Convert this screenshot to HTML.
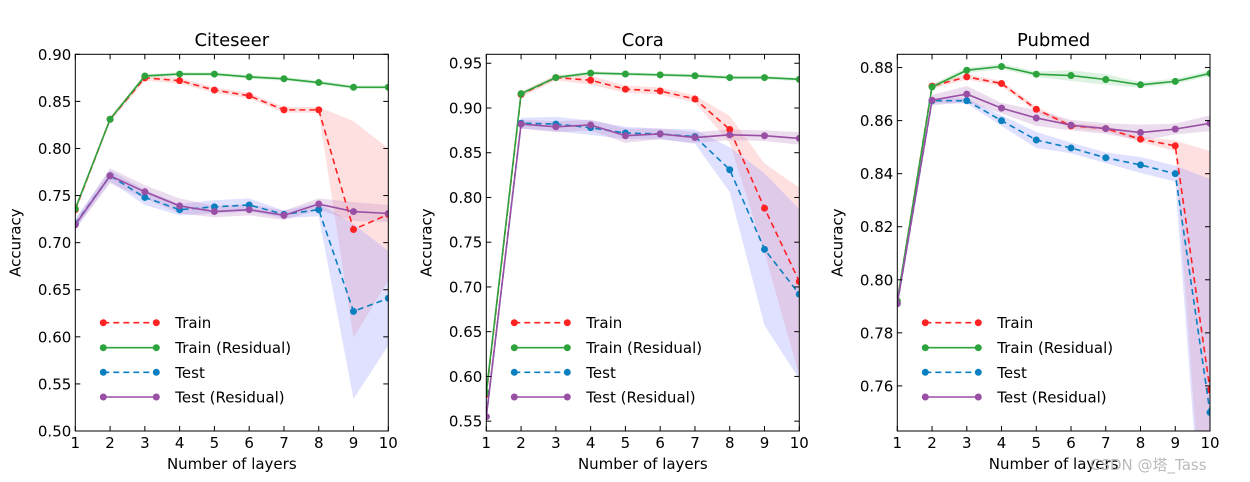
<!DOCTYPE html>
<html><head><meta charset="utf-8"><style>
html,body{margin:0;background:#fff;overflow:hidden;width:1250px;height:482px;}
svg{display:block;font-family:"DejaVu Sans","Liberation Sans",sans-serif;}
</style></head><body>
<svg id="fig" width="1250" height="482" viewBox="0 0 1250 482" xmlns="http://www.w3.org/2000/svg"></svg>
<script>
const layers=[1,2,3,4,5,6,7,8,9,10];
const seriesNames=["Train","Train (Residual)","Test","Test (Residual)"];
// Citeseer
const citeTrain=[0.735,0.831,0.875,0.872,0.862,0.856,0.841,0.841,0.714,0.730];
const citeTrainRes=[0.736,0.831,0.877,0.879,0.879,0.876,0.874,0.870,0.865,0.865];
const citeTest=[0.720,0.771,0.748,0.735,0.738,0.740,0.730,0.735,0.627,0.641];
const citeTestRes=[0.719,0.771,0.754,0.739,0.733,0.735,0.729,0.741,0.733,0.731];
const citeTrainErr=[0.003,0.003,0.003,0.003,0.003,0.003,0.003,0.003,0.115,0.07];
const citeTrainResErr=[0.002,0.002,0.002,0.002,0.002,0.002,0.002,0.002,0.002,0.002];
const citeTestErr=[0.005,0.006,0.008,0.006,0.007,0.007,0.004,0.007,0.093,0.05];
const citeTestResErr=[0.005,0.008,0.007,0.008,0.006,0.006,0.005,0.006,0.01,0.009];
const citeTicks=[0.50,0.55,0.60,0.65,0.70,0.75,0.80,0.85,0.90];
// Cora
const coraTrain=[0.580,0.915,0.934,0.931,0.921,0.919,0.910,0.876,0.788,0.706];
const coraTrainRes=[0.582,0.916,0.934,0.939,0.938,0.937,0.936,0.934,0.934,0.932];
const coraTest=[0.555,0.883,0.882,0.878,0.872,0.871,0.868,0.831,0.742,0.692];
const coraTestRes=[0.555,0.882,0.879,0.881,0.869,0.871,0.867,0.870,0.869,0.866];
const coraTrainErr=[0.003,0.003,0.003,0.005,0.004,0.004,0.004,0.015,0.05,0.105];
const coraTrainResErr=[0.002,0.002,0.002,0.002,0.002,0.002,0.002,0.002,0.002,0.002];
const coraTestErr=[0.004,0.006,0.008,0.008,0.007,0.006,0.008,0.025,0.085,0.095];
const coraTestResErr=[0.004,0.005,0.006,0.006,0.008,0.006,0.006,0.006,0.006,0.007];
const coraTicks=[0.55,0.60,0.65,0.70,0.75,0.80,0.85,0.90,0.95];
// Pubmed
const pubTrain=[0.792,0.873,0.8765,0.874,0.8643,0.858,0.857,0.853,0.8505,0.7585];
const pubTrainRes=[0.792,0.8727,0.879,0.8804,0.8775,0.877,0.8755,0.8735,0.8748,0.8778];
const pubTest=[0.791,0.8675,0.8675,0.860,0.8527,0.8497,0.846,0.8433,0.840,0.750];
const pubTestRes=[0.791,0.8677,0.870,0.8647,0.861,0.8583,0.857,0.8555,0.8568,0.859];
const pubTrainErr=[0.001,0.001,0.001,0.001,0.001,0.001,0.001,0.001,0.002,0.09];
const pubTrainResErr=[0.001,0.001,0.001,0.001,0.001,0.002,0.002,0.001,0.001,0.001];
const pubTestErr=[0.001,0.001,0.001,0.002,0.003,0.002,0.002,0.003,0.003,0.088];
const pubTestResErr=[0.001,0.002,0.003,0.002,0.003,0.002,0.002,0.003,0.002,0.003];
const pubTicks=[0.76,0.78,0.80,0.82,0.84,0.86,0.88];

const NS="http://www.w3.org/2000/svg";
const fig=document.getElementById('fig');
function mk(tag,attrs,parent){const e=document.createElementNS(NS,tag);for(const k in attrs)e.setAttribute(k,attrs[k]);(parent||fig).appendChild(e);return e;}
const colors=["#ff2222","#2ca33c","#0b80c0","#994fa4"];
const bandColors=["#ff9999","#8fd39a","#9999ff","#c090c8"];
const dashes=["6,4","none","6,4","none"];

const panels=[
 {title:"Citeseer",key:"citeseer",x0:75.3,x1:388.3,ymin:0.50,ymax:0.90,ticks:citeTicks,dec:2,
  series:[citeTrain,citeTrainRes,citeTest,citeTestRes],errs:[citeTrainErr,citeTrainResErr,citeTestErr,citeTestResErr]},
 {title:"Cora",key:"cora",x0:486.3,x1:799.3,ymin:0.539,ymax:0.960,ticks:coraTicks,dec:2,
  series:[coraTrain,coraTrainRes,coraTest,coraTestRes],errs:[coraTrainErr,coraTrainResErr,coraTestErr,coraTestResErr]},
 {title:"Pubmed",key:"pubmed",x0:897.3,x1:1210,ymin:0.743,ymax:0.885,ticks:pubTicks,dec:2,
  series:[pubTrain,pubTrainRes,pubTest,pubTestRes],errs:[pubTrainErr,pubTrainResErr,pubTestErr,pubTestResErr]}
];
const yT=54.3,yB=431;

panels.forEach((p,pi)=>{
  const g=mk('g',{});
  
  
  const sx=v=>p.x0+(v-1)/9*(p.x1-p.x0);
  const sy=v=>yB-(v-p.ymin)/(p.ymax-p.ymin)*(yB-yT);
  const cid='clip'+pi;
  const cp=mk('clipPath',{id:cid},g);
  mk('rect',{x:p.x0,y:yT,width:p.x1-p.x0,height:yB-yT},cp);
  const plot=mk('g',{'clip-path':'url(#'+cid+')'},g);
  p.series.forEach((s,si)=>{
    const e=p.errs[si];
    let d='';
    layers.forEach((l,i)=>{d+=(i?'L':'M')+sx(l)+','+sy(s[i]+e[i]);});
    for(let i=layers.length-1;i>=0;i--)d+='L'+sx(layers[i])+','+sy(s[i]-e[i]);
    const b=mk('path',{d:d+'Z',fill:bandColors[si],'fill-opacity':0.3,stroke:'none'},plot);
    
    
  });
  p.series.forEach((s,si)=>{
    const pts=layers.map((l,i)=>sx(l)+','+sy(s[i])).join(' ');
    const ln=mk('polyline',{points:pts,fill:'none',stroke:colors[si],'stroke-width':1.6,'stroke-dasharray':dashes[si]},plot);
    
    
    layers.forEach((l,i)=>{
      const c=mk('circle',{cx:sx(l),cy:sy(s[i]),r:3.5,fill:colors[si]},plot);
      
      
    });
  });
  const fr=mk('rect',{x:p.x0,y:yT,width:p.x1-p.x0,height:yB-yT,fill:'none',stroke:'#000','stroke-width':1},g);
  
  
  p.ticks.forEach(t=>{
    const y=sy(t);
    mk('line',{x1:p.x0,x2:p.x0+5,y1:y,y2:y,stroke:'#000'},g);
    mk('line',{x1:p.x1,x2:p.x1-5,y1:y,y2:y,stroke:'#000'},g);
    const tx=mk('text',{x:p.x0-4,y:y+5.5,'text-anchor':'end','font-size':15},g);
    tx.textContent=t.toFixed(p.dec);
    
    
  });
  layers.forEach(l=>{
    const x=sx(l);
    mk('line',{x1:x,x2:x,y1:yB,y2:yB-5,stroke:'#000'},g);
    mk('line',{x1:x,x2:x,y1:yT,y2:yT+5,stroke:'#000'},g);
    const tx=mk('text',{x:x,y:448,'text-anchor':'middle','font-size':15},g);
    tx.textContent=l;
    
    
  });
  const ti=mk('text',{x:(p.x0+p.x1)/2,y:46,'text-anchor':'middle','font-size':18},g);
  ti.textContent=p.title;
  
  
  const xt=mk('text',{x:(p.x0+p.x1)/2,y:469,'text-anchor':'middle','font-size':15},g);
  xt.textContent='Number of layers';
  
  
  const ylx=p.x0-55;
  const yt=mk('text',{x:ylx,y:(yT+yB)/2,'text-anchor':'middle','font-size':15,transform:'rotate(-90 '+ylx+' '+(yT+yB)/2+')'},g);
  yt.textContent='Accuracy';
  
  
  const lx=p.x0+28;
  [322.7,347.7,372.3,397].forEach((ly,si)=>{
    const lg=mk('g',{},g);
    
    
    mk('line',{x1:lx,x2:lx+53,y1:ly,y2:ly,stroke:colors[si],'stroke-width':1.6,'stroke-dasharray':dashes[si]},lg);
    mk('circle',{cx:lx,cy:ly,r:3.5,fill:colors[si]},lg);
    mk('circle',{cx:lx+53,cy:ly,r:3.5,fill:colors[si]},lg);
    const t=mk('text',{x:lx+72,y:ly+5.5,'font-size':15},lg);
    t.textContent=seriesNames[si];
  });
});
const wm=mk('text',{x:1090,y:470,'font-size':15,fill:'#bbbbbb','font-family':'"DejaVu Sans","Noto Sans CJK SC",sans-serif'});
wm.textContent='CSDN @塔_Tass';


</script>
</body></html>
